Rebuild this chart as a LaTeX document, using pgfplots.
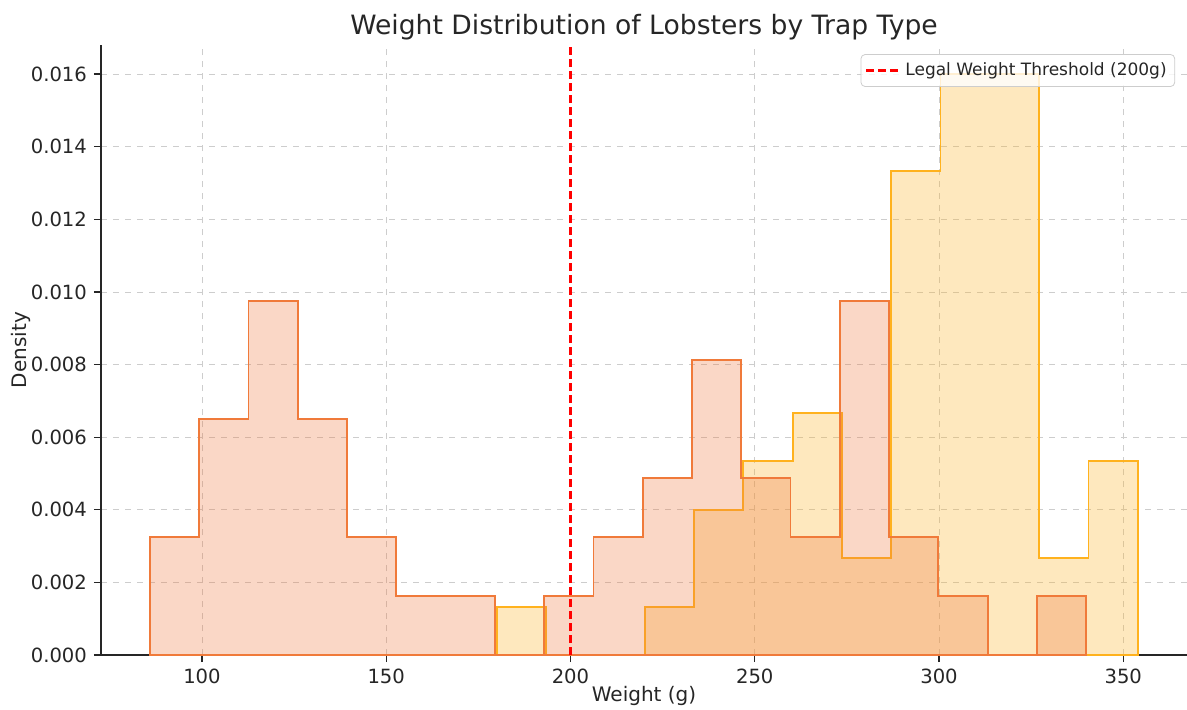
\documentclass[border=0pt]{standalone}
\usepackage{pgfplots}
\pgfplotsset{compat=1.18}
\usepackage{fontspec}
\setmainfont{DejaVu Sans}
\definecolor{yelfill}{RGB}{252,180,40}
\definecolor{yeledge}{RGB}{255,178,30}
\definecolor{orfill}{RGB}{238,122,65}
\definecolor{oredge}{RGB}{240,122,58}
\definecolor{txt}{RGB}{38,38,38}
\definecolor{gridc}{RGB}{205,205,205}
\begin{document}
\begin{tikzpicture}
\begin{axis}[
  scale only axis,
  width=543pt, height=305pt,
  xmin=72.6, xmax=367.3,
  ymin=0, ymax=0.0168,
  axis lines*=left,
  axis line style={color=txt, line width=0.8pt},
  xtick={100,150,200,250,300,350},
  ytick={0,0.002,0.004,0.006,0.008,0.010,0.012,0.014,0.016},
  scaled y ticks=false,
  yticklabel style={/pgf/number format/.cd, fixed, fixed zerofill, precision=3, assume math mode=true},
  xticklabel style={/pgf/number format/assume math mode=true},
  tick label style={font=\fontsize{9.8}{12}\selectfont, color=txt},
  tick align=outside,
  tick style={color=txt, line width=0.6pt},
  major tick length=3.5pt,
  grid=major,
  grid style={gridc, dashed, line width=0.4pt},
  title={Weight Distribution of Lobsters by Trap Type},
  title style={font=\fontsize{13.3}{16}\selectfont, color=txt, at={(0.5,1)}, anchor=south, yshift=-7pt},
  xlabel={Weight (g)},
  ylabel={Density},
  label style={font=\fontsize{10}{12}\selectfont, color=txt},
  xlabel style={yshift=5.5pt},
  ylabel style={yshift=-7pt},
  legend style={at={(0.989,0.985)}, anchor=north east, font=\fontsize{8.5}{10}\selectfont, text=txt, draw=gridc, fill=white, fill opacity=0.8, text opacity=1, rounded corners=2pt, inner sep=2pt, row sep=0pt},
  legend cell align=left,
  clip=true,
]
\addplot[const plot, forget plot, draw=yeledge, line width=0.9pt, fill=yelfill, fill opacity=0.3] coordinates {
(180.00,0.001333) (193.38,0) (206.76,0) (220.14,0.001333) (233.52,0.004) (246.90,0.005333) (260.28,0.006667) (273.66,0.002667) (287.04,0.013333) (300.42,0.016) (313.80,0.016) (327.18,0.002667) (340.56,0.005333) (353.94,0.005333)
} \closedcycle;
\addplot[const plot, forget plot, draw=oredge, line width=0.9pt, fill=orfill, fill opacity=0.3] coordinates {
(85.90,0.003252) (99.27,0.006504) (112.64,0.009756) (126.01,0.006504) (139.38,0.003252) (152.75,0.001626) (166.12,0.001626) (179.49,0) (192.86,0.001626) (206.23,0.003252) (219.60,0.004878) (232.97,0.008130) (246.34,0.004878) (259.71,0.003252) (273.08,0.009756) (286.45,0.003252) (299.82,0.001626) (313.19,0) (326.56,0.001626) (339.93,0.001626)
} \closedcycle;
\addplot[red, line width=1.1pt, dash pattern=on 4pt off 2pt] coordinates {(200,0) (200,0.0168)};
\addlegendentry{Legal Weight Threshold (200g)}
\coordinate (bl) at (rel axis cs:0,0);
\coordinate (tr) at (rel axis cs:1,1);
\end{axis}
\pgfresetboundingbox
\path[use as bounding box] ([xshift=-50.5pt,yshift=-27pt]bl) rectangle ([yshift=22.5pt]tr);
\end{tikzpicture}
\end{document}
